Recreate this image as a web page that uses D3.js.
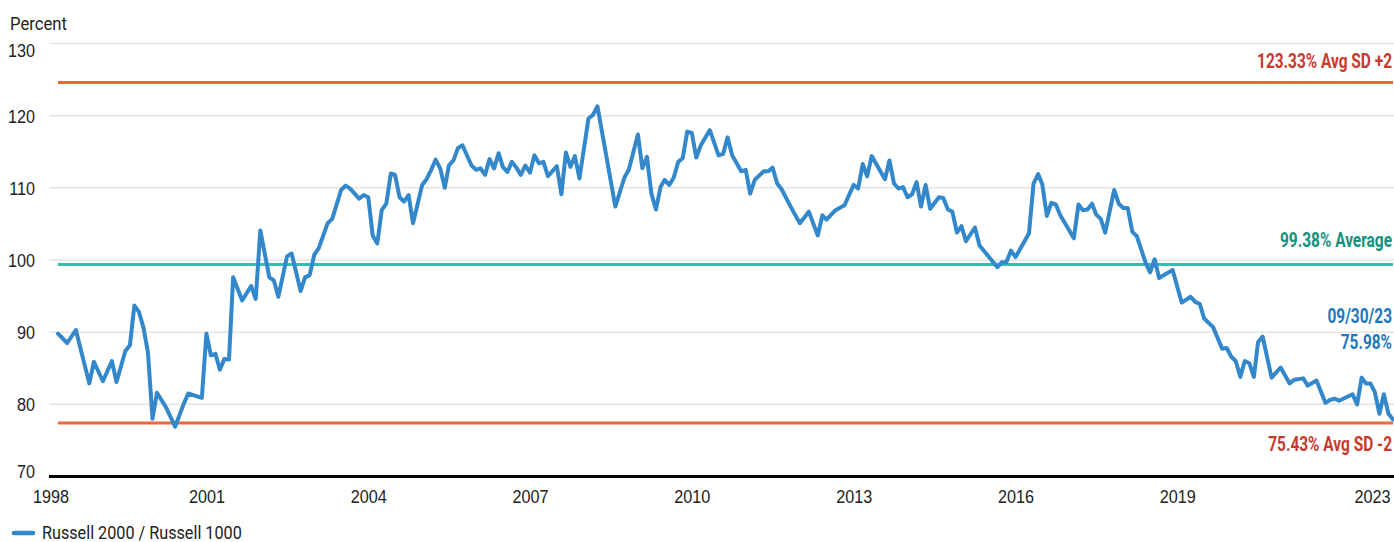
<!DOCTYPE html>
<html><head><meta charset="utf-8">
<script src="https://cdn.jsdelivr.net/npm/d3@7"></script>
<style>
html,body{margin:0;padding:0;background:#fff;}
svg{display:block;font-family:Roboto,"Liberation Sans",sans-serif;}
</style></head>
<body><svg id="chart" width="1394" height="542"></svg>
<script>
// ---- data ----
const dates = ["1998-12","1999-02","1999-04","1999-07","1999-08","1999-10","1999-12","2000-01","2000-03","2000-04","2000-05","2000-06","2000-07","2000-08","2000-09","2000-10","2000-12","2001-02","2001-04","2001-05","2001-08","2001-09","2001-10","2001-11","2001-12","2002-01","2002-02","2002-03","2002-05","2002-07","2002-08","2002-09","2002-11","2002-12","2003-01","2003-03","2003-04","2003-06","2003-07","2003-08","2003-09","2003-10","2003-12","2004-01","2004-03","2004-04","2004-05","2004-07","2004-08","2004-09","2004-10","2004-11","2004-12","2005-01","2005-02","2005-03","2005-04","2005-05","2005-06","2005-07","2005-09","2005-10","2005-11","2005-12","2006-01","2006-02","2006-03","2006-04","2006-05","2006-06","2006-08","2006-09","2006-10","2006-11","2006-12","2007-01","2007-02","2007-03","2007-04","2007-05","2007-06","2007-07","2007-08","2007-09","2007-10","2007-11","2007-12","2008-01","2008-03","2008-04","2008-05","2008-06","2008-07","2008-08","2008-10","2008-11","2008-12","2009-04","2009-06","2009-07","2009-09","2009-10","2009-11","2009-12","2010-01","2010-02","2010-03","2010-04","2010-05","2010-06","2010-07","2010-08","2010-09","2010-10","2010-11","2011-01","2011-03","2011-04","2011-05","2011-06","2011-08","2011-09","2011-10","2011-11","2012-01","2012-02","2012-03","2012-04","2012-05","2012-07","2012-09","2012-11","2013-01","2013-02","2013-03","2013-05","2013-07","2013-09","2013-10","2013-11","2013-12","2014-01","2014-04","2014-05","2014-06","2014-07","2014-08","2014-09","2014-10","2014-11","2014-12","2015-01","2015-02","2015-04","2015-05","2015-06","2015-07","2015-08","2015-09","2015-10","2015-12","2016-01","2016-05","2016-06","2016-07","2016-08","2016-09","2016-11","2016-12","2017-01","2017-02","2017-03","2017-04","2017-05","2017-06","2017-07","2017-10","2017-11","2017-12","2018-01","2018-02","2018-03","2018-04","2018-05","2018-07","2018-08","2018-09","2018-10","2018-11","2018-12","2019-02","2019-03","2019-04","2019-05","2019-06","2019-08","2019-10","2019-12","2020-01","2020-02","2020-03","2020-05","2020-07","2020-08","2020-09","2020-10","2020-11","2020-12","2021-01","2021-02","2021-03","2021-04","2021-06","2021-08","2021-10","2021-11","2022-01","2022-02","2022-04","2022-06","2022-07","2022-08","2022-09","2022-12","2023-01","2023-02","2023-03","2023-04","2023-05","2023-06","2023-07","2023-08","2023-09"];
const ratio = [89.8,88.5,90.3,82.9,85.9,83.2,86.0,83.1,87.4,88.2,93.7,92.8,90.7,87.2,78.0,81.6,79.6,76.9,80.1,81.5,80.9,89.8,86.8,87.0,84.8,86.3,86.2,97.6,94.4,96.4,94.6,104.1,97.6,97.2,94.9,100.5,100.9,95.7,97.6,97.9,100.7,101.6,105.1,105.7,109.7,110.3,109.9,108.5,109.0,108.7,103.4,102.3,106.9,107.8,112.0,111.8,108.7,108.1,109.0,105.1,110.4,111.2,112.5,113.9,112.7,110.0,113.1,113.8,115.5,115.9,113.1,112.5,112.7,111.8,114.0,112.7,114.8,112.9,112.2,113.6,112.8,111.8,113.1,112.1,114.5,113.4,113.6,111.6,113.0,109.1,114.9,112.9,114.4,111.3,119.6,120.1,121.3,107.4,111.4,112.5,117.4,112.7,114.3,109.2,107.0,110.1,111.1,110.4,111.4,113.6,114.1,117.8,117.6,114.2,115.9,118.0,114.5,114.7,117.0,114.5,112.3,112.5,109.2,111.1,112.3,112.3,112.8,110.6,109.8,107.4,105.1,106.7,103.4,106.2,105.6,106.9,107.6,110.4,109.9,113.3,111.6,114.4,111.2,113.8,110.6,109.9,110.1,108.7,109.1,110.8,107.4,110.4,107.1,108.7,108.6,107.0,106.7,103.8,104.7,102.6,104.5,102.0,99.0,99.7,99.7,101.3,100.4,102.6,103.7,110.6,111.9,110.5,106.1,107.9,107.7,106.2,103.0,107.7,106.9,107.0,107.8,106.3,105.7,103.8,109.7,107.8,107.2,107.2,103.9,103.3,99.5,98.3,100.1,97.5,97.9,98.6,94.1,94.9,94.2,93.9,91.9,90.7,87.7,87.8,86.6,86.0,83.8,86.0,85.7,83.8,88.6,89.4,83.7,85.1,82.9,83.4,83.6,82.6,83.3,80.2,80.6,80.8,80.5,81.4,80.0,83.7,82.9,82.9,81.7,78.7,81.4,78.7,77.9];
const seriesName = "Russell 2000 / Russell 1000";
const refLevels = [124.6, 99.38, 77.4];            // levels at which the reference lines are drawn
const refLabels = ["123.33% Avg SD +2", "99.38% Average", "75.43% Avg SD -2"];
const yTicks = [70, 80, 90, 100, 110, 120, 130];
const xTickDates = ["1998-09","2001-09","2004-09","2007-09","2010-09","2013-09","2016-09","2019-09","2023-09"];
const xTickLabels = ["1998","2001","2004","2007","2010","2013","2016","2019","2023"];
const lastLabel = ["09/30/23", "75.98%"];
const yTitle = "Percent";

// ---- chart ----
const parse = d3.timeParse("%Y-%m");
const data = dates.map((d, i) => ({date: parse(d), value: ratio[i]}));
const svg = d3.select("#chart");
const plotLeft = 49, plotRight = 1394;

const x = d3.scaleTime().domain([parse("1998-12"), parse("2023-09")]).range([58, 1393]);
const y = d3.scaleLinear().domain([70, 130]).range([476.5, 43.5]);

const C = {grid:"#e4e4e4", text:"#222", blue:"#3388cb", blueText:"#1f77bd",
           sd:"#f0683a", sdText:"#c8392e", avg:"#33bfb0", avgText:"#12917f"};

// horizontal condensing of text (the reference uses a condensed face)
function condense(sel, s) {
  sel.each(function () {
    const t = d3.select(this);
    const ax = +t.attr("x") || 0;
    const prev = t.attr("transform") || "";
    t.attr("transform", `${prev} translate(${ax},0) scale(${s},1) translate(${-ax},0)`);
  });
}
function measure(str, size, weight) {
  const t = svg.append("text").attr("font-size", size).attr("font-weight", weight).text(str);
  const w = t.node().getComputedTextLength();
  t.remove();
  return w;
}
const regScale = 200 / measure(seriesName, 18.5, "normal");
const boldScale = 135 / measure(refLabels[0], 20, "bold");

// grid lines
svg.append("g").selectAll("line").data(yTicks.filter(v => v > 70)).join("line")
  .attr("x1", plotLeft).attr("x2", plotRight)
  .attr("y1", d => y(d)).attr("y2", d => y(d))
  .attr("stroke", C.grid).attr("stroke-width", 1.5);

// y axis labels
const yAxis = d3.axisLeft(y).tickValues(yTicks).tickSize(0).tickPadding(0).tickFormat(d3.format("d"));
const gy = svg.append("g").attr("transform", "translate(35,0)").call(yAxis);
gy.select(".domain").remove();
gy.selectAll("text").attr("font-size", 18.5).attr("fill", C.text)
  .attr("font-family", null).attr("dy", "0.35em")
  .attr("transform", d => d === 130 ? "translate(0,7)" : d === 70 ? "translate(0,-5)" : null);
condense(gy.selectAll("text"), regScale);

const title = svg.append("text").attr("x", 10).attr("y", 30.5).attr("font-size", 19).attr("fill", C.text).text(yTitle);
condense(title, regScale);

// x axis
const xAxis = d3.axisBottom(x).tickValues(xTickDates.map(parse)).tickSize(0).tickPadding(0)
  .tickFormat((d, i) => xTickLabels[i]);
const gx = svg.append("g").attr("transform", "translate(0,490)").call(xAxis);
gx.select(".domain").remove();
gx.selectAll("text").attr("font-size", 18.5).attr("fill", C.text).attr("font-family", null).attr("dy", "0.71em");
gx.selectAll(".tick").filter((d, i) => i === 0).select("text").attr("text-anchor", "start").attr("x", -12);
gx.selectAll(".tick").filter((d, i) => i === xTickDates.length - 1).select("text").attr("text-anchor", "end").attr("x", -3);
condense(gx.selectAll("text"), regScale);

// baseline
svg.append("line").attr("x1", plotLeft).attr("x2", plotRight).attr("y1", y(70)).attr("y2", y(70))
  .attr("stroke", "#000").attr("stroke-width", 3);

// reference lines
const refColors = [C.sd, C.avg, C.sd];
const refTextColors = [C.sdText, C.avgText, C.sdText];
svg.append("g").selectAll("line").data(refLevels).join("line")
  .attr("x1", x(parse("1998-12"))).attr("x2", x(parse("2023-09")))
  .attr("y1", d => y(d)).attr("y2", d => y(d))
  .attr("stroke", (d, i) => refColors[i]).attr("stroke-width", 3);

// series line
svg.append("path").datum(data)
  .attr("fill", "none").attr("stroke", C.blue).attr("stroke-width", 4)
  .attr("stroke-linejoin", "round").attr("stroke-linecap", "round")
  .attr("d", d3.line().x(d => x(d.date)).y(d => y(d.value)));

// reference labels
const refLabelDy = [-14, -17, 28];
const refText = svg.append("g").selectAll("text").data(refLevels).join("text")
  .attr("x", 1392).attr("y", (d, i) => y(d) + refLabelDy[i])
  .attr("text-anchor", "end").attr("font-size", 20).attr("font-weight", "bold")
  .attr("fill", (d, i) => refTextColors[i]).text((d, i) => refLabels[i]);
condense(refText, boldScale);

// last value label
const lastText = svg.append("g").selectAll("text").data(lastLabel).join("text")
  .attr("x", 1392).attr("y", (d, i) => 323.5 + i * 26)
  .attr("text-anchor", "end").attr("font-size", 20).attr("font-weight", "bold")
  .attr("fill", C.blueText).text(d => d);
condense(lastText, boldScale);

// legend
svg.append("line").attr("x1", 14).attr("x2", 33).attr("y1", 533).attr("y2", 533)
  .attr("stroke", C.blue).attr("stroke-width", 4.5).attr("stroke-linecap", "round");
const legText = svg.append("text").attr("x", 42).attr("y", 539).attr("font-size", 18.5).attr("fill", C.text).text(seriesName);
condense(legText, regScale);
</script></body></html>
